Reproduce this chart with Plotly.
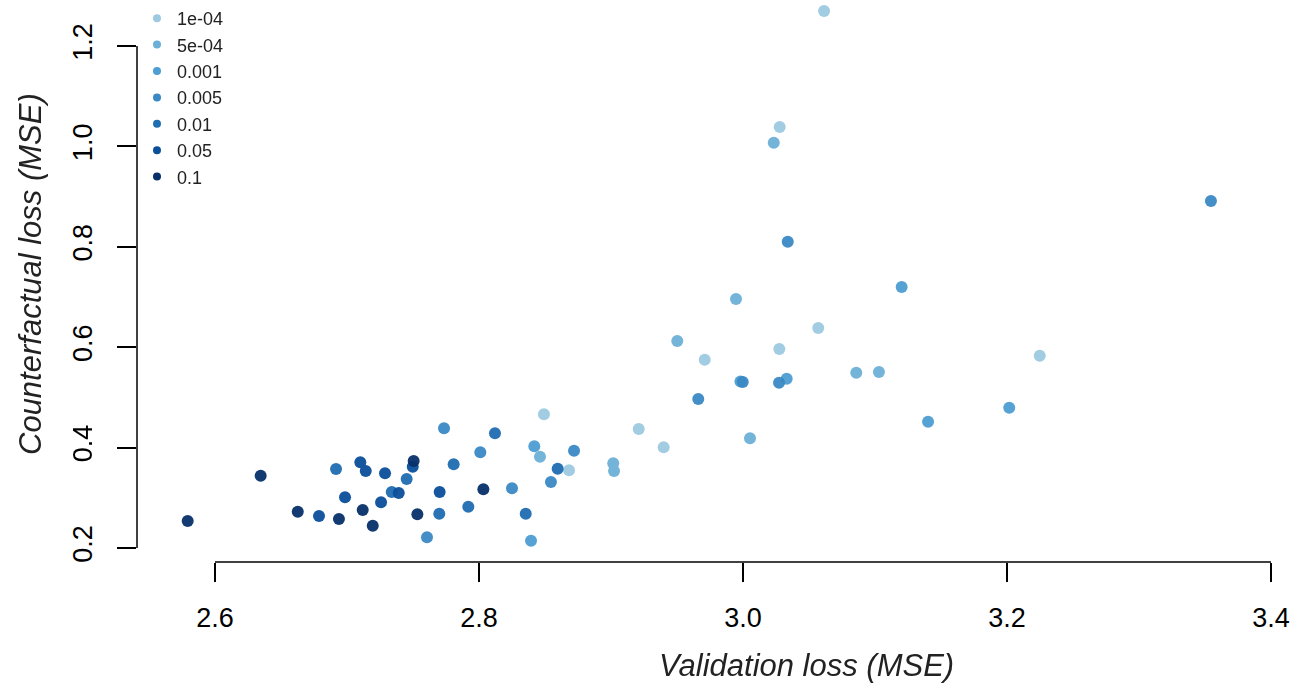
import plotly.graph_objects as go

# Learning-rate categories and their colours
categories = ["1e-04", "5e-04", "0.001", "0.005", "0.01", "0.05", "0.1"]
colors = ["#9ecae1", "#6db0d7", "#4f9ed2", "#3a89c4", "#1f6db2", "#0a4f9a", "#08306b"]

# Validation loss (x) and counterfactual loss (y) per category
x_1e4 = [3.0614, 3.0278, 3.0570, 2.9710, 3.0275, 3.2248, 2.9210, 2.9399, 2.8492, 2.8682]
y_1e4 = [1.2697, 1.0386, 0.6382, 0.5751, 0.5964, 0.5831, 0.4371, 0.4006, 0.4663, 0.3548]

x_5e4 = [3.0233, 2.9947, 2.9502, 3.0858, 3.1030, 3.0053, 2.9017, 2.9023, 2.8462]
y_5e4 = [1.0074, 0.6960, 0.6124, 0.5492, 0.5506, 0.4185, 0.3687, 0.3534, 0.3819]

x_1e3 = [3.1202, 3.2017, 3.1402, 3.0331, 2.8419, 2.8394, 2.9981]
y_1e3 = [0.7199, 0.4795, 0.4516, 0.5373, 0.4026, 0.2145, 0.5317]

x_5e3 = [3.0339, 3.3545, 2.9998, 3.0273, 2.9661, 2.7735, 2.8010, 2.7606, 2.8250, 2.8720, 2.8545]
y_5e3 = [0.8102, 0.8912, 0.5307, 0.5293, 0.4968, 0.4384, 0.3906, 0.2213, 0.3189, 0.3938, 0.3315]

x_1e2 = [2.6917, 2.7339, 2.7452, 2.7699, 2.7808, 2.7919, 2.8121, 2.8354, 2.8596]
y_1e2 = [0.3574, 0.3116, 0.3375, 0.2683, 0.3667, 0.2823, 0.4285, 0.2683, 0.3580]

x_5e2 = [2.6788, 2.7101, 2.7142, 2.7288, 2.6985, 2.7258, 2.7392, 2.7498, 2.7702]
y_5e2 = [0.2637, 0.3707, 0.3534, 0.3488, 0.3010, 0.2910, 0.3096, 0.3620, 0.3116]

x_1e1 = [2.5793, 2.6346, 2.6627, 2.6939, 2.7119, 2.7195, 2.7505, 2.7533, 2.8033]
y_1e1 = [0.2538, 0.3440, 0.2723, 0.2578, 0.2757, 0.2444, 0.3733, 0.2671, 0.3169]

xs = [x_1e4, x_5e4, x_1e3, x_5e3, x_1e2, x_5e2, x_1e1]
ys = [y_1e4, y_5e4, y_1e3, y_5e3, y_1e2, y_5e2, y_1e1]

x_ticks = [2.6, 2.8, 3.0, 3.2, 3.4]
x_ticktext = ["2.6", "2.8", "3.0", "3.2", "3.4"]
y_ticks = [0.2, 0.4, 0.6, 0.8, 1.0, 1.2]
y_ticktext = ["0.2", "0.4", "0.6", "0.8", "1.0", "1.2"]

FONT = "Liberation Sans, Arial, Helvetica, sans-serif"

fig = go.Figure()
for cat, col, xv, yv in zip(categories, colors, xs, ys):
    fig.add_trace(go.Scatter(
        x=xv, y=yv, mode="markers", name=cat, showlegend=False,
        marker=dict(color=col, size=12, line=dict(width=0)), opacity=0.95,
        cliponaxis=False))
# legend entries (smaller symbols as in the reference)
for cat, col in zip(categories, colors):
    fig.add_trace(go.Scatter(
        x=[None], y=[None], mode="markers", name=cat, showlegend=True,
        marker=dict(color=col, size=8, line=dict(width=0))))

W, H = 1296, 684
L, R, T, B = 137, 6, 0, H - 562
x0 = 2.6 - (215 - L) / 1320
x1 = x0 + (W - R - L) / 1320
y0 = 0.2 - (562 - 548) / 502
y1 = y0 + (562 - T) / 502

fig.update_layout(
    width=W, height=H,
    margin=dict(l=L, r=R, t=T, b=B, pad=0),
    paper_bgcolor="white", plot_bgcolor="white",
    font=dict(family=FONT, color="black"),
    xaxis=dict(range=[x0, x1], showgrid=False, zeroline=False, showline=False,
               tickmode="array", tickvals=x_ticks, ticktext=x_ticktext,
               ticks="outside", ticklen=19, tickwidth=1.5, tickcolor="black",
               tickfont=dict(size=27, family=FONT, color="black"),
               ticklabelstandoff=13),
    yaxis=dict(range=[y0, y1], showgrid=False, zeroline=False, showline=False,
               tickmode="array", tickvals=y_ticks, ticktext=y_ticktext,
               ticks="outside", ticklen=19, tickwidth=1.5, tickcolor="black",
               tickangle=-90,
               tickfont=dict(size=27, family=FONT, color="black"),
               ticklabelstandoff=14),
    legend=dict(x=0.0, y=1.0, xanchor="left", yanchor="top",
                bgcolor="rgba(0,0,0,0)", borderwidth=0,
                font=dict(size=18, family=FONT, color="#222222"),
                itemsizing="trace"),
    showlegend=True,
    shapes=[
        dict(type="line", xref="x", yref="paper", x0=2.6, x1=3.4, y0=0, y1=0,
             line=dict(color="black", width=1.5)),
        dict(type="line", xref="paper", yref="y", x0=0, x1=0, y0=0.2, y1=1.2,
             line=dict(color="black", width=1.5)),
    ],
    annotations=[
        dict(text="<i>Validation loss (MSE)</i>", xref="paper", yref="paper",
             x=(806 - L) / (W - R - L), y=-(665 - 562) / (562 - T),
             xanchor="center", yanchor="middle", showarrow=False,
             font=dict(size=31, family=FONT, color="#222222")),
        dict(text="<i>Counterfactual loss (MSE)</i>", xref="paper", yref="paper",
             x=-(L - 30) / (W - R - L), y=(562 - 274) / (562 - T),
             xanchor="center", yanchor="middle", showarrow=False, textangle=-90,
             font=dict(size=31, family=FONT, color="#222222")),
    ],
)

fig.write_html("out.html")
